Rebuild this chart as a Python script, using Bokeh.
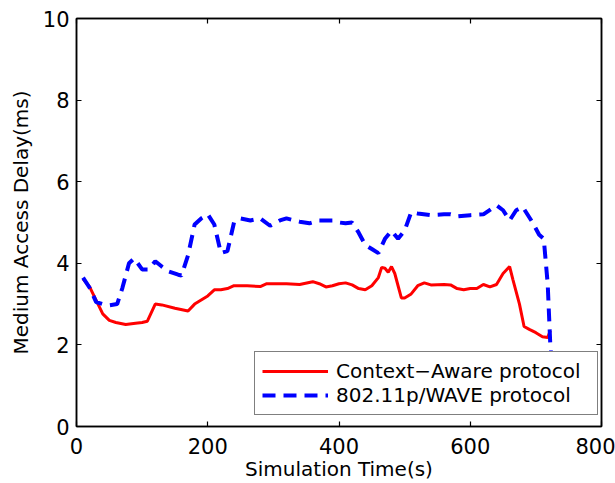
from bokeh.plotting import figure
from bokeh.models import LinearAxis, Range1d, Legend, LegendItem, FixedTicker
from bokeh.embed import file_html
from bokeh.resources import INLINE

# Context-Aware protocol
ca_x = [10, 20, 30, 40, 50, 60, 75, 90, 100, 108, 120, 130, 150, 170, 180, 190, 200, 210, 220, 230,
        240, 260, 280, 290, 320, 340, 360, 370, 380, 390, 400, 410, 420, 430, 440, 450, 460, 465,
        470, 475, 480, 485, 490, 495, 500, 510, 520, 530, 540, 560, 570, 580, 590, 600, 610, 620,
        630, 640, 650, 660, 665, 675, 682, 690, 700, 710, 718, 722]
ca_y = [3.62, 3.42, 3.09, 2.76, 2.6, 2.55, 2.5, 2.53, 2.55, 2.58, 3.0, 2.98, 2.9, 2.83, 3.0, 3.1, 3.2,
        3.35, 3.35, 3.38, 3.45, 3.45, 3.43, 3.5, 3.5, 3.48, 3.55, 3.5, 3.42, 3.45, 3.5, 3.52, 3.47,
        3.38, 3.35, 3.45, 3.65, 3.9, 3.88, 3.78, 3.92, 3.75, 3.45, 3.15, 3.15, 3.25, 3.45, 3.52, 3.47,
        3.48, 3.47, 3.38, 3.35, 3.38, 3.38, 3.48, 3.42, 3.48, 3.75, 3.92, 3.6, 3.0, 2.45, 2.38, 2.3,
        2.2, 2.18, 2.35]

# 802.11p/WAVE protocol
wv_x = [10, 20, 30, 40, 50, 62, 70, 80, 88, 100, 110, 120, 130, 140, 155, 160, 170, 180, 190, 200,
        210, 215, 220, 230, 240, 250, 265, 280, 295, 310, 320, 340, 355, 370, 390, 400, 410, 420,
        430, 440, 450, 460, 470, 480, 490, 500, 510, 520, 540, 560, 570, 580, 600, 620, 640, 650,
        660, 670, 680, 695, 705, 712, 718, 722, 723]
wv_y = [3.65, 3.4, 3.05, 3.0, 2.97, 3.0, 3.4, 4.0, 4.12, 3.85, 3.85, 4.05, 3.92, 3.8, 3.72, 3.7, 4.2,
        4.95, 5.1, 5.2, 4.95, 4.6, 4.25, 4.3, 5.0, 5.1, 5.05, 5.1, 4.92, 5.05, 5.1, 5.02, 4.98, 5.05,
        5.05, 5.0, 4.98, 5.0, 4.75, 4.45, 4.35, 4.25, 4.6, 4.8, 4.6, 4.8, 5.25, 5.22, 5.18, 5.2, 5.2,
        5.15, 5.18, 5.2, 5.42, 5.3, 5.05, 5.3, 5.38, 5.0, 4.7, 4.6, 3.5, 2.0, 1.85]

x_ticks = [0, 200, 400, 600, 800]
y_ticks = [0, 2, 4, 6, 8, 10]

FONT = "DejaVu Sans"

p = figure(width=615, height=483, output_backend="svg", toolbar_location=None,
           x_range=Range1d(0, 800), y_range=Range1d(0, 10),
           min_border_left=76, min_border_top=18, min_border_right=14, min_border_bottom=57)
p.background_fill_color = "white"
p.border_fill_color = "white"
p.outline_line_color = "black"
p.outline_line_width = 1.5
p.grid.visible = False

for ax in (p.xaxis[0], p.yaxis[0]):
    ax.major_label_text_font = FONT
    ax.major_label_text_font_size = "21px"
    ax.major_label_text_color = "black"
    ax.axis_label_text_font = FONT
    ax.axis_label_text_font_size = "20px"
    ax.axis_label_text_font_style = "normal"
    ax.axis_label_text_color = "black"
    ax.major_tick_in = 5
    ax.major_tick_out = 0
    ax.minor_tick_line_color = None
    ax.axis_line_width = 1.5
    ax.major_tick_line_width = 1.2
p.xaxis.ticker = FixedTicker(ticks=x_ticks)
p.yaxis.ticker = FixedTicker(ticks=y_ticks)
p.xaxis.axis_label = "Simulation Time(s)"
p.yaxis.axis_label = "Medium Access Delay(ms)"
p.xaxis.major_label_standoff = 11
p.yaxis.major_label_standoff = 7
p.xaxis.axis_label_standoff = 0
p.yaxis.axis_label_standoff = 7

ra = LinearAxis(ticker=FixedTicker(ticks=y_ticks),
                major_label_overrides={t: "" for t in y_ticks},
                major_tick_in=5, major_tick_out=0, minor_tick_line_color=None,
                major_label_standoff=0, axis_line_width=1.5, major_tick_line_width=1.2)
ta = LinearAxis(ticker=FixedTicker(ticks=x_ticks),
                major_label_overrides={t: "" for t in x_ticks},
                major_tick_in=5, major_tick_out=0, minor_tick_line_color=None,
                major_label_standoff=0, axis_line_width=1.5, major_tick_line_width=1.2)
p.add_layout(ra, "right")
p.add_layout(ta, "above")

r1 = p.line(ca_x, ca_y, line_color="#ff0000", line_width=3)
r2 = p.line(wv_x, wv_y, line_color="#0000ff", line_width=4, line_dash="13 8")

legend = Legend(items=[LegendItem(label="Context\u2212Aware protocol", renderers=[r1]),
                       LegendItem(label="802.11p/WAVE protocol", renderers=[r2])],
                location=(178, 11))
legend.label_text_font = FONT
legend.label_text_font_size = "20px"
legend.label_text_color = "black"
legend.glyph_width = 66
legend.glyph_height = 20
legend.label_height = 20
legend.label_width = 254
legend.label_standoff = 8
legend.spacing = 0
legend.padding = 7
legend.margin = 0
legend.border_line_color = "black"
legend.border_line_width = 1.5
legend.background_fill_alpha = 1
p.add_layout(legend)

open("out.html", "w").write(file_html(p, INLINE))
